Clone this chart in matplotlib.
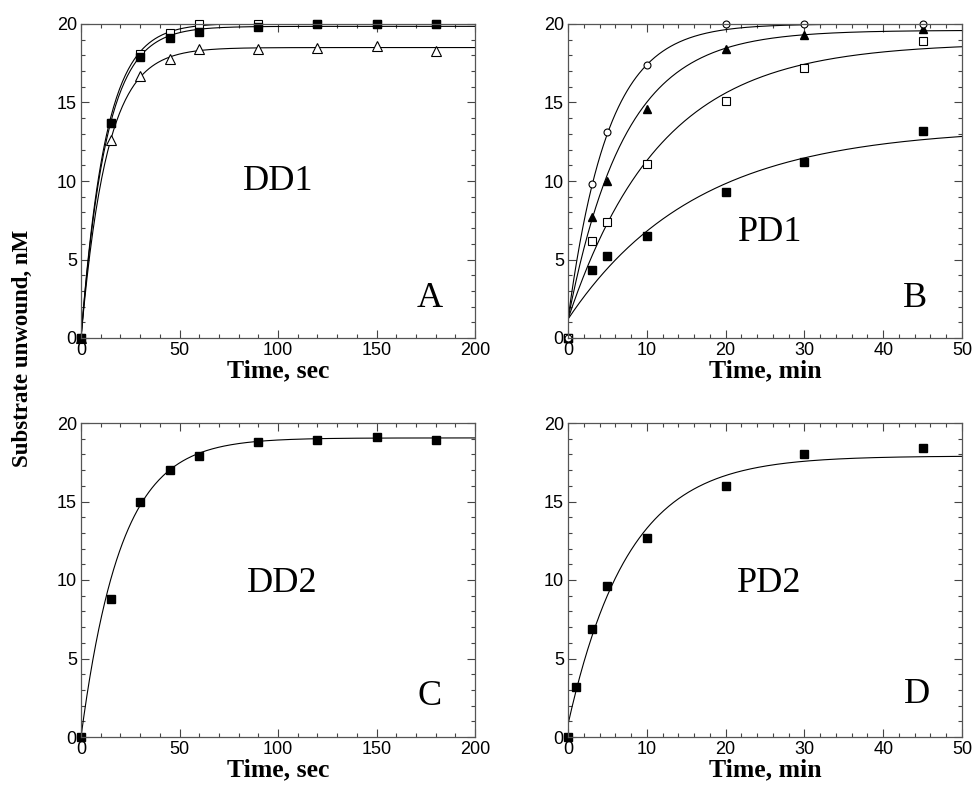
import numpy as np
import matplotlib
matplotlib.use("Agg")
import matplotlib.pyplot as plt
from matplotlib.ticker import MultipleLocator

# ---- data ----
t_sec = [0, 15, 30, 45, 60, 90, 120, 150, 180]
dd1_filled_sq = [0, 13.7, 17.9, 19.1, 19.5, 19.8, 20.0, 20.0, 20.0]
dd1_open_sq = [0, 13.7, 18.1, 19.4, 20.0, 20.0, 20.0, 20.0, 20.0]
dd1_open_tri = [0, 12.6, 16.7, 17.8, 18.4, 18.4, 18.5, 18.6, 18.3]

t_min = [0, 3, 5, 10, 20, 30, 45]
pd1_open_circ = [0, 9.8, 13.1, 17.4, 20.0, 20.0, 20.0]
pd1_filled_tri = [0, 7.7, 10.0, 14.6, 18.4, 19.3, 19.7]
pd1_open_sq = [0, 6.2, 7.4, 11.1, 15.1, 17.2, 18.9]
pd1_filled_sq = [0, 4.3, 5.2, 6.5, 9.3, 11.2, 13.2]

dd2 = [0, 8.8, 15.0, 17.0, 17.9, 18.8, 18.9, 19.1, 18.9]

t_min_d = [0, 1, 3, 5, 10, 20, 30, 45]
pd2 = [0, 3.2, 6.9, 9.6, 12.7, 16.0, 18.0, 18.4]

# fitted single exponential curves: (offset, amplitude, rate)
fit_dd1 = [(0, 19.85, 0.078), (0, 20.05, 0.080), (0, 18.5, 0.076)]
fit_pd1 = [(1.2, 18.8, 0.198), (1.2, 18.4, 0.139), (1.2, 17.6, 0.0853), (1.2, 12.2, 0.0615)]
fit_dd2 = (0, 19.05, 0.0496)
fit_pd2 = (0.8, 17.1, 0.131)


def expfit(t, p):
    b, a, k = p
    return b + a * (1 - np.exp(-k * t))


plt.rcParams['font.family'] = ['Liberation Sans', 'DejaVu Sans']
plt.rcParams['font.size'] = 13

fig = plt.figure(figsize=(9.74, 7.87), dpi=100)
w, h = 394 / 974, 314 / 787
axA = fig.add_axes([81 / 974, 1 - 338 / 787, w, h])
axB = fig.add_axes([568 / 974, 1 - 338 / 787, w, h])
axC = fig.add_axes([81 / 974, 1 - 737 / 787, w, h])
axD = fig.add_axes([568 / 974, 1 - 737 / 787, w, h])

serif = ['Liberation Serif', 'DejaVu Serif']


def style(ax, xmax, xmaj, xmin, xlabel):
    ax.set_xlim(0, xmax)
    ax.set_ylim(0, 20)
    ax.xaxis.set_major_locator(MultipleLocator(xmaj))
    ax.xaxis.set_minor_locator(MultipleLocator(xmin))
    ax.yaxis.set_major_locator(MultipleLocator(5))
    ax.yaxis.set_minor_locator(MultipleLocator(1))
    ax.tick_params(which='both', direction='in', top=True, right=True, width=0.8, color='#444444')
    ax.tick_params(which='major', length=6, labelsize=13, pad=3)
    ax.tick_params(which='minor', length=3)
    for s in ax.spines.values():
        s.set_color('#555555')
        s.set_linewidth(0.9)
    ax.set_xlabel(xlabel, family=serif, fontweight='bold', fontsize=18.5, labelpad=0)


lw = 0.8
# Panel A
tt = np.linspace(0, 200, 400)
for p in fit_dd1:
    axA.plot(tt, expfit(tt, p), color='black', lw=lw)
axA.plot(t_sec, dd1_open_tri, '^', ms=7, mfc='white', mec='black', mew=0.8, clip_on=False)
axA.plot(t_sec, dd1_open_sq, 's', ms=6, mfc='white', mec='black', mew=0.8, clip_on=False)
axA.plot(t_sec, dd1_filled_sq, 's', ms=6, color='black', clip_on=False)
style(axA, 200, 50, 10, 'Time, sec')
axA.text(100, 10, 'DD1', family=serif, fontsize=26, ha='center', va='center')
axA.text(177, 2.5, 'A', family=serif, fontsize=26, ha='center', va='center')

# Panel B
tm = np.linspace(0, 50, 400)
for p in fit_pd1:
    axB.plot(tm, expfit(tm, p), color='black', lw=lw)
axB.plot(t_min, pd1_filled_sq, 's', ms=6, color='black', clip_on=False)
axB.plot(t_min, pd1_open_sq, 's', ms=6, mfc='white', mec='black', mew=0.8, clip_on=False)
axB.plot(t_min, pd1_filled_tri, '^', ms=6, color='black', clip_on=False)
axB.plot(t_min, pd1_open_circ, 'o', ms=5, mfc='white', mec='black', mew=0.8, clip_on=False)
style(axB, 50, 10, 2, 'Time, min')
axB.text(25.6, 6.7, 'PD1', family=serif, fontsize=26, ha='center', va='center')
axB.text(44, 2.5, 'B', family=serif, fontsize=26, ha='center', va='center')

# Panel C
axC.plot(tt, expfit(tt, fit_dd2), color='black', lw=lw)
axC.plot(t_sec, dd2, 's', ms=6, color='black', clip_on=False)
style(axC, 200, 50, 10, 'Time, sec')
axC.text(102, 9.8, 'DD2', family=serif, fontsize=26, ha='center', va='center')
axC.text(177, 2.6, 'C', family=serif, fontsize=26, ha='center', va='center')

# Panel D
axD.plot(tm, expfit(tm, fit_pd2), color='black', lw=lw)
axD.plot(t_min_d, pd2, 's', ms=6, color='black', clip_on=False)
style(axD, 50, 10, 2, 'Time, min')
axD.text(25.6, 9.8, 'PD2', family=serif, fontsize=26, ha='center', va='center')
axD.text(44.3, 2.7, 'D', family=serif, fontsize=26, ha='center', va='center')

fig.text(22 / 974, 1 - 348 / 787, 'Substrate unwound, nM', family=serif, fontweight='bold',
         fontsize=16.5, rotation=90, ha='center', va='center')

fig.savefig('out.png', dpi=100)
